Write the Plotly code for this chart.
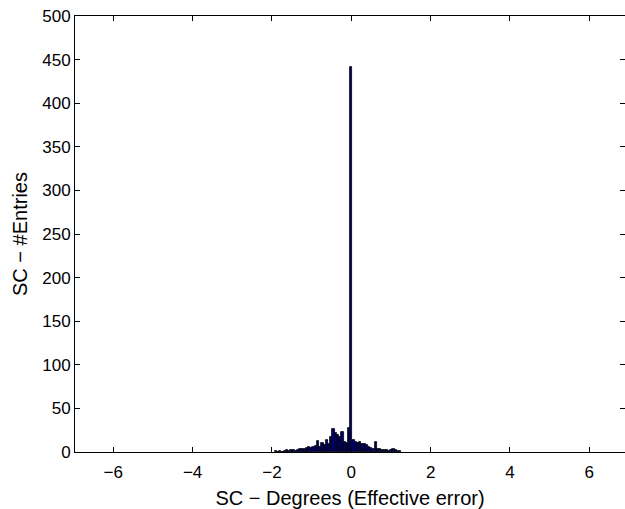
import plotly.graph_objects as go

# Histogram bin centres (degrees) and counts
bin_centers = [
    -1.904, -1.848, -1.792, -1.736, -1.680, -1.624, -1.568, -1.512, -1.456, -1.400,
    -1.344, -1.288, -1.232, -1.176, -1.120, -1.064, -1.008, -0.952, -0.896, -0.840,
    -0.784, -0.728, -0.672, -0.616, -0.560, -0.504, -0.448, -0.392, -0.336, -0.280,
    -0.224, -0.168, -0.112, -0.056, 0.000, 0.056, 0.112, 0.168, 0.224, 0.280,
    0.336, 0.392, 0.448, 0.504, 0.560, 0.616, 0.672, 0.728, 0.784, 0.840,
    0.896, 0.952, 1.008, 1.064, 1.120, 1.176, 1.232,
]
counts = [
    1, 0, 1, 0, 1, 2, 1, 2, 2, 1,
    2, 3, 3, 4, 5, 6, 5, 6, 7, 13,
    6, 10, 8, 14, 9, 17, 26, 22, 20, 17,
    23, 12, 10, 27, 442, 14, 12, 10, 11, 9,
    9, 8, 6, 5, 4, 11, 4, 3, 2, 2,
    2, 1, 2, 4, 2, 1, 1,
]
bin_width = 0.056

x_ticks = [-6, -4, -2, 0, 2, 4, 6]
y_ticks = [0, 50, 100, 150, 200, 250, 300, 350, 400, 450, 500]

fig = go.Figure(
    go.Bar(
        x=bin_centers,
        y=counts,
        width=bin_width,
        marker=dict(color="#000070", line=dict(color="black", width=0.8)),
    )
)

font_family = "Liberation Sans, Arial, sans-serif"
fig.update_layout(
    width=625,
    height=509,
    margin=dict(l=75, r=0, t=16, b=57),
    plot_bgcolor="white",
    paper_bgcolor="white",
    bargap=0,
    showlegend=False,
    font=dict(family=font_family, size=17, color="black"),
)
fig.update_xaxes(
    range=[-6.965, 6.90],
    tickvals=x_ticks,
    ticks="inside",
    ticklen=5,
    tickcolor="black",
    showline=True,
    linecolor="black",
    linewidth=1,
    mirror="ticks",
    showgrid=False,
    zeroline=False,
    tickfont=dict(size=17),
    ticklabelstandoff=5,
    title=dict(text="SC − Degrees (Effective error)", font=dict(size=20), standoff=14),
)
fig.update_yaxes(
    range=[0, 500],
    tickvals=y_ticks,
    ticks="inside",
    ticklen=5,
    tickcolor="black",
    showline=True,
    linecolor="black",
    linewidth=1,
    mirror="ticks",
    showgrid=False,
    zeroline=False,
    tickfont=dict(size=17),
    title=dict(text="SC − #Entries", font=dict(size=20), standoff=9),
)

fig.write_html("out.html")
